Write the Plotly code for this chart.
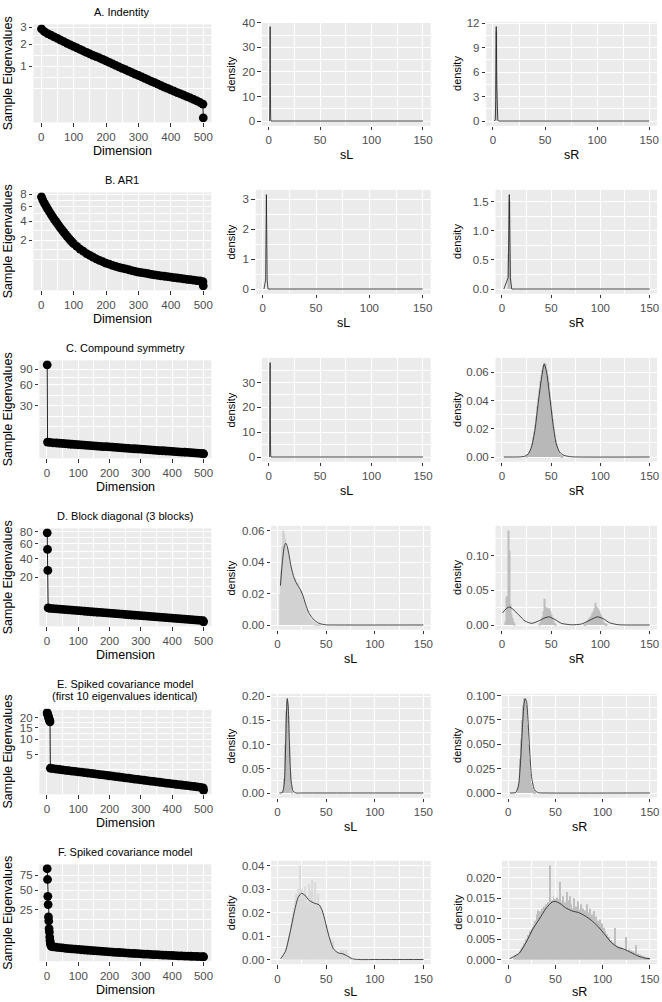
import math
import plotly.graph_objects as go

W, H = 662, 1002
FONT = "Liberation Sans, Arial, Helvetica, sans-serif"
TICKCOL = "#4D4D4D"

# ------------------------------------------------------------------
# Left column: sample eigenvalues
# ------------------------------------------------------------------
dims_A = [1] + list(range(10, 500, 10)) + [499, 500]
eig_A = [2.89, 2.71, 2.59, 2.50, 2.40, 2.31, 2.22, 2.13, 2.04, 1.96,
         1.88, 1.80, 1.73, 1.65, 1.58, 1.51, 1.45, 1.39, 1.33, 1.27,
         1.21, 1.15, 1.09, 1.03, 0.976, 0.922, 0.870, 0.821, 0.773, 0.726,
         0.681, 0.637, 0.594, 0.554, 0.514, 0.476, 0.440, 0.404, 0.371, 0.339,
         0.308, 0.281, 0.255, 0.230, 0.207, 0.185, 0.163, 0.143, 0.123, 0.102,
         0.084, 0.001]
yticks_A = [1, 2, 3]

dims_B = [1] + list(range(5, 100, 5)) + list(range(100, 500, 10)) + [499, 500]
eig_B = [7.56, 7.02, 6.50, 6.08, 5.66, 5.29, 4.93, 4.60, 4.28, 4.00,
         3.72, 3.46, 3.20, 2.98, 2.76, 2.56, 2.37, 2.19, 2.02, 1.87,
         1.73, 1.51, 1.32, 1.17, 1.02, 0.910, 0.810, 0.723, 0.648, 0.578,
         0.518, 0.469, 0.423, 0.384, 0.348, 0.320, 0.292, 0.265, 0.240, 0.217,
         0.196, 0.181, 0.168, 0.154, 0.141, 0.130, 0.119, 0.109, 0.100, 0.091,
         0.084, 0.076, 0.069, 0.062, 0.055, 0.049, 0.044, 0.039, 0.034, 0.029,
         0.022, 0.0005]
yticks_B = [2, 4, 6, 8]

dims_C = [1, 2] + list(range(10, 500, 10)) + [499, 500]
eig_C = [99.0, 2.31,
         2.17, 2.07, 2.00, 1.92, 1.85, 1.78, 1.70, 1.63, 1.57, 1.50,
         1.44, 1.38, 1.32, 1.26, 1.21, 1.16, 1.11, 1.06, 1.02, 0.968,
         0.920, 0.872, 0.824, 0.781, 0.738, 0.696, 0.657, 0.618, 0.581, 0.545,
         0.510, 0.475, 0.443, 0.411, 0.381, 0.352, 0.323, 0.297, 0.271, 0.246,
         0.225, 0.204, 0.184, 0.166, 0.148, 0.130, 0.114, 0.098, 0.082,
         0.067, 0.055]
yticks_C = [30, 60, 90]

dims_D = [1, 2, 3, 4] + list(range(10, 500, 10)) + [499, 500]
eig_D = [78.0, 52.0, 26.6, 2.24,
         2.13, 2.04, 1.97, 1.90, 1.83, 1.76, 1.69, 1.62, 1.56, 1.50,
         1.44, 1.38, 1.32, 1.26, 1.21, 1.16, 1.11, 1.06, 1.01, 0.962,
         0.915, 0.868, 0.822, 0.778, 0.735, 0.694, 0.654, 0.615, 0.578, 0.542,
         0.507, 0.473, 0.440, 0.409, 0.379, 0.350, 0.322, 0.295, 0.270, 0.246,
         0.224, 0.203, 0.183, 0.164, 0.146, 0.129, 0.113, 0.097, 0.082,
         0.060, 0.020]
yticks_D = [20, 40, 60, 80]

dims_E = list(range(1, 12)) + list(range(20, 500, 10)) + [499, 500]
eig_E = [22.8, 22.2, 21.6, 21.0, 20.4, 19.9, 19.3, 18.8, 18.3, 17.8, 2.00,
         1.93, 1.86, 1.79, 1.72, 1.66, 1.60, 1.54, 1.49, 1.44,
         1.38, 1.33, 1.27, 1.22, 1.17, 1.12, 1.07, 1.02, 0.97, 0.92,
         0.875, 0.83, 0.785, 0.74, 0.70, 0.66, 0.62, 0.58, 0.545, 0.51,
         0.475, 0.44, 0.41, 0.38, 0.35, 0.322, 0.295, 0.27, 0.245, 0.222,
         0.20, 0.18, 0.162, 0.145, 0.128, 0.112, 0.097, 0.083, 0.068,
         0.05, 0.006]
yticks_E = [5, 10, 15, 20]

dims_F = list(range(1, 16)) + list(range(20, 500, 10)) + [499, 500]
eig_F = [87.0, 67.0, 41.0, 30.6, 17.8, 14.4, 8.9, 6.9, 4.4, 3.0, 2.2, 1.75, 1.45, 1.3, 1.2,
         1.12, 1.03, 0.95, 0.88, 0.82, 0.76, 0.70, 0.655, 0.61,
         0.565, 0.525, 0.485, 0.45, 0.415, 0.385, 0.355, 0.325, 0.30, 0.275,
         0.25, 0.23, 0.21, 0.19, 0.17, 0.155, 0.14, 0.125, 0.11, 0.10,
         0.088, 0.077, 0.067, 0.058, 0.05, 0.043, 0.036, 0.03, 0.025, 0.02,
         0.016, 0.012, 0.009, 0.007, 0.005, 0.0035, 0.0022, 0.0012, 0.0005,
         0.0002, 0.0]
yticks_F = [25, 50, 75]

titles = ["A. Indentity", "B. AR1", "C. Compound symmetry",
          "D. Block diagonal (3 blocks)",
          "E. Spiked covariance model", "F. Spiked covariance model"]
title_E2 = "(first 10 eigenvalues identical)"

# ------------------------------------------------------------------
# Middle / right columns: densities of sL and sR
# ------------------------------------------------------------------
dA_L_x = [1.0, 1.25, 1.5, 1.75, 2.0, 2.4, 150]
dA_L_y = [0.0, 14.0, 38.5, 14.0, 1.0, 0.0, 0.0]
hA_L_x, hA_L_y = [], []
ytA_L = [0, 10, 20, 30, 40]

dA_R_x = [1.3, 2.2, 2.6, 2.9, 3.1, 3.3, 3.6, 4.0, 4.6, 5.5, 150]
dA_R_y = [0.0, 0.2, 2.5, 8.5, 11.6, 9.5, 4.5, 1.2, 0.15, 0.0, 0.0]
hA_R_x = [2.6, 2.9, 3.2, 3.5, 3.8]
hA_R_y = [2.0, 9.0, 11.0, 6.0, 1.5]
ytA_R = [0, 3, 6, 9, 12]

dB_L_x = [1.2, 2.8, 3.2, 3.5, 3.8, 4.2, 5.0, 150]
dB_L_y = [0.0, 0.3, 2.0, 3.15, 2.0, 0.3, 0.0, 0.0]
hB_L_x, hB_L_y = [], []
ytB_L = [0, 1, 2, 3]

dB_R_x = [2.0, 6.4, 7.0, 7.5, 8.0, 8.6, 10.0, 150]
dB_R_y = [0.0, 0.2, 1.0, 1.62, 1.0, 0.2, 0.0, 0.0]
hB_R_x = [6.75, 7.25, 7.75, 8.25]
hB_R_y = [0.6, 1.5, 1.5, 0.6]
ytB_R = [0.0, 0.5, 1.0, 1.5]

dC_L_x = [1.0, 1.2, 1.45, 1.7, 2.0, 2.4, 150]
dC_L_y = [0.0, 12.0, 38.0, 12.0, 0.8, 0.0, 0.0]
hC_L_x, hC_L_y = [], []
ytC_L = [0, 10, 20, 30]

dC_R_x = [2, 15, 20, 23, 27, 30, 33.5, 36.8, 40.2, 42.9, 45.2, 48.5, 51.9, 55.2, 58.6, 62.9, 70, 80, 150]
dC_R_y = [0, 0, 0.0002, 0.0005, 0.0024, 0.007, 0.019, 0.038, 0.056, 0.066, 0.061, 0.0435,
          0.0235, 0.0094, 0.0035, 0.0012, 0.0002, 0, 0]
hC_R_x = list(range(25, 63))
hC_R_y = [0.001, 0.002, 0.002, 0.004, 0.005, 0.007, 0.010, 0.014, 0.018, 0.023,
          0.029, 0.036, 0.042, 0.048, 0.054, 0.058, 0.062, 0.065, 0.067, 0.066,
          0.062, 0.058, 0.053, 0.046, 0.040, 0.033, 0.027, 0.021, 0.016, 0.012,
          0.009, 0.006, 0.004, 0.003, 0.002, 0.0015, 0.001, 0.0005]
ytC_R = [0.00, 0.02, 0.04, 0.06]

dD_L_x = [3, 5, 7, 8.5, 10, 12, 14, 17, 20, 23, 26, 29, 32, 35, 38, 42, 46, 50, 60, 150]
dD_L_y = [0.025, 0.04, 0.05, 0.052, 0.05, 0.044, 0.037, 0.03, 0.026, 0.023, 0.019, 0.013,
          0.008, 0.005, 0.003, 0.0013, 0.0005, 0.0001, 0, 0]
hD_L_x = list(range(3, 45))
hD_L_y = [0.02, 0.035, 0.05, 0.06, 0.058, 0.055, 0.05, 0.048, 0.045, 0.04,
          0.038, 0.035, 0.033, 0.03, 0.028, 0.03, 0.026, 0.025, 0.027, 0.022,
          0.02, 0.022, 0.018, 0.016, 0.015, 0.012, 0.01, 0.008, 0.009, 0.006,
          0.005, 0.004, 0.003, 0.003, 0.002, 0.002, 0.001, 0.001, 0.0005, 0.0005,
          0.0003, 0.0002]
ytD_L = [0.00, 0.02, 0.04, 0.06]

dD_R_x = [0.7, 4, 7.4, 11, 16.8, 23.5, 30.3, 37, 43.7, 47.8, 53.8, 60.5, 70.6, 80.7, 87.5,
          94.2, 96.9, 102.6, 109.3, 117.7, 127.8, 150]
dD_R_y = [0.0175, 0.023, 0.026, 0.023, 0.015, 0.0057, 0.0024, 0.0057, 0.0104, 0.0118, 0.008,
          0.0024, 0.0003, 0.0014, 0.0057, 0.0104, 0.0118, 0.0094, 0.0033, 0.0005, 0, 0]
hD_R_x = (list(range(4, 14)) + list(range(38, 55)) + list(range(84, 107)))
hD_R_y = ([0.005, 0.04, 0.042, 0.136, 0.107, 0.03, 0.015, 0.01, 0.005, 0.002]
          + [0.002, 0.004, 0.008, 0.012, 0.02, 0.038, 0.026, 0.024, 0.025, 0.023,
             0.024, 0.02, 0.015, 0.01, 0.006, 0.003, 0.001]
          + [0.001, 0.002, 0.004, 0.006, 0.008, 0.01, 0.012, 0.014, 0.018, 0.02,
             0.024, 0.032, 0.026, 0.025, 0.022, 0.02, 0.016, 0.012, 0.008, 0.005,
             0.003, 0.002, 0.001])
ytD_R = [0.00, 0.05, 0.10]

dE_L_x = [2, 5, 7, 8, 9, 10, 11, 12, 13, 14, 16, 19, 25, 150]
dE_L_y = [0, 0.001, 0.02, 0.07, 0.15, 0.195, 0.18, 0.12, 0.06, 0.025, 0.004, 0, 0, 0]
hE_L_x = list(range(6, 16))
hE_L_y = [0.005, 0.03, 0.1, 0.17, 0.19, 0.16, 0.1, 0.045, 0.015, 0.004]
ytE_L = [0.00, 0.05, 0.10, 0.15, 0.20]

dE_R_x = [2, 8, 11, 13, 15, 16.5, 18, 19.5, 21, 23, 25, 28, 32, 40, 150]
dE_R_y = [0, 0.0005, 0.008, 0.03, 0.065, 0.088, 0.097, 0.094, 0.075, 0.04, 0.015, 0.003,
          0.0003, 0, 0]
hE_R_x = list(range(10, 29))
hE_R_y = [0.004, 0.01, 0.02, 0.035, 0.055, 0.075, 0.09, 0.097, 0.096, 0.09,
          0.07, 0.05, 0.035, 0.02, 0.01, 0.006, 0.003, 0.002, 0.001]
ytE_R = [0.000, 0.025, 0.050, 0.075, 0.100]

dF_L_x = [3.3, 8.2, 13.1, 18, 21.3, 24.6, 27.9, 32.8, 37.7, 42.7, 45.9, 49.2, 52.5, 57.4,
          62.4, 67.3, 72.2, 77.1, 83.7, 100, 150]
dF_L_y = [0.0003, 0.0035, 0.0118, 0.0216, 0.0265, 0.0282, 0.0275, 0.0251, 0.024, 0.0233,
          0.0209, 0.016, 0.0105, 0.0046, 0.0028, 0.0024, 0.0014, 0.0003, 0, 0, 0]
hF_L_x = list(range(5, 77))
hF_L_y = [0.0, 0.001, 0.002, 0.003, 0.005, 0.006, 0.008, 0.01, 0.012, 0.015,
          0.018, 0.02, 0.022, 0.025, 0.028, 0.024, 0.03, 0.027, 0.04, 0.026,
          0.03, 0.028, 0.022, 0.031, 0.025, 0.027, 0.02, 0.024, 0.032, 0.022,
          0.029, 0.034, 0.021, 0.025, 0.033, 0.02, 0.024, 0.028, 0.02, 0.023,
          0.019, 0.021, 0.016, 0.018, 0.013, 0.015, 0.01, 0.012, 0.007, 0.009,
          0.005, 0.006, 0.008, 0.003, 0.004, 0.002, 0.003, 0.002, 0.003, 0.002,
          0.004, 0.002, 0.003, 0.004, 0.002, 0.003, 0.004, 0.001, 0.002, 0.001,
          0.001, 0.0005]
ytF_L = [0.00, 0.01, 0.02, 0.03, 0.04]

dF_R_x = [1.7, 12, 19, 26, 33, 40, 46.7, 50, 55, 60.5, 67.5, 74.4, 81.3, 88, 95, 102, 109,
          116, 123, 130, 137, 143.6, 150]
dF_R_y = [0.0002, 0.0016, 0.0042, 0.0074, 0.0099, 0.0125, 0.0141, 0.0142, 0.0137, 0.0127,
          0.0119, 0.0115, 0.0107, 0.0096, 0.0081, 0.0062, 0.0042, 0.003, 0.0025, 0.0017,
          0.0009, 0.0004, 0.0002]
hF_R_x = list(range(6, 150))
hF_R_y = [0.0005, 0.001, 0.0008, 0.0012, 0.001,
          0.0015, 0.002, 0.0018, 0.0025, 0.003,
          0.0032, 0.004, 0.0035, 0.005, 0.0045,
          0.006, 0.0055, 0.007, 0.0065, 0.0075,
          0.008, 0.0085, 0.0095, 0.0088, 0.011,
          0.0105, 0.012, 0.0098, 0.0118, 0.011,
          0.0125, 0.0115, 0.013, 0.012, 0.0135,
          0.0128, 0.014, 0.0125, 0.023, 0.0135,
          0.0145, 0.0138, 0.0155, 0.013, 0.0148,
          0.014, 0.0152, 0.0135, 0.0148, 0.019,
          0.0142, 0.013, 0.0155, 0.012, 0.014,
          0.0132, 0.0165, 0.0125, 0.0145, 0.0155,
          0.0118, 0.0135, 0.0125, 0.012, 0.015,
          0.0115, 0.013, 0.0108, 0.0142, 0.0122,
          0.011, 0.0135, 0.0112, 0.0125, 0.0105,
          0.012, 0.0108, 0.0135, 0.0098, 0.0115,
          0.0102, 0.0125, 0.009, 0.011, 0.0095,
          0.0118, 0.0085, 0.0105, 0.0078, 0.0095,
          0.0082, 0.0098, 0.007, 0.0088, 0.0065,
          0.0078, 0.0058, 0.007, 0.0052, 0.0062,
          0.0045, 0.0055, 0.004, 0.0048, 0.0035,
          0.0042, 0.0032, 0.0077, 0.003, 0.0035,
          0.0028, 0.0032, 0.0025, 0.003, 0.0022,
          0.0028, 0.002, 0.0025, 0.0018, 0.0055,
          0.002, 0.0018, 0.0025, 0.0015, 0.0022,
          0.0014, 0.002, 0.0012, 0.0018, 0.0035,
          0.001, 0.0015, 0.0008, 0.0012, 0.0008,
          0.0007, 0.001, 0.0005, 0.0008, 0.0004,
          0.0005, 0.0003, 0.0004, 0.0002]
ytF_R = [0.000, 0.005, 0.010, 0.015, 0.020]

dens_xticks = [0, 50, 100, 150]
dim_xticks = [0, 100, 200, 300, 400, 500]

# ------------------------------------------------------------------
# Layout geometry (pixels)
# ------------------------------------------------------------------
left_boxes = [(33.5, 212, 19.5, 118), (33.5, 212, 188.5, 287), (39.5, 212, 357.5, 456),
              (39.5, 212, 526.5, 625), (39.5, 212, 708, 794), (39.5, 212, 864.5, 962)]
mid_boxes = [(262.7, 432, 17, 121.5), (256.5, 432, 186, 290.5), (262.7, 432, 355, 459.5),
             (272, 432, 524, 628.5), (272, 432, 693, 797.5), (272, 432, 861, 965)]
right_boxes = [(487.7, 659, 17, 121.5), (497, 659, 186, 290.5), (497, 659, 355, 459.5),
               (497, 659, 524, 628.5), (503.5, 659, 693, 797.5), (503.5, 659, 861, 965)]

fig = go.Figure()
layout = dict(width=W, height=H, margin=dict(l=0, r=0, t=0, b=0),
              paper_bgcolor="white", plot_bgcolor="#EBEBEB", showlegend=False,
              barmode="overlay", font=dict(family=FONT, color="black"))
annotations = []


def names(k):
    s = "" if k == 1 else str(k)
    return "xaxis" + s, "yaxis" + s, "x" + s, "y" + s


def minor_from(majors, lo, hi):
    b = list(majors)
    bd = b[1] - b[0]
    if lo < b[0]:
        b = [b[0] - bd] + b
    if hi > b[-1]:
        b = b + [b[-1] + bd]
    out = []
    for a, c in zip(b[:-1], b[1:]):
        out += [a, (a + c) / 2]
    out.append(b[-1])
    return [v for v in out if lo <= v <= hi and all(abs(v - m) > 1e-9 for m in majors)]


def fmt_labels(vals):
    dec = 0
    for v in vals:
        s = repr(float(v))
        if "." in s:
            d = len(s.split(".")[1].rstrip("0"))
            dec = max(dec, d)
    return [f"{v:.{dec}f}" for v in vals]


def axis(box, horiz, rng, tickvals, ticktext, minors, anchor):
    x0, x1, y0, y1 = box
    dom = [x0 / W, x1 / W] if horiz else [1 - y1 / H, 1 - y0 / H]
    return dict(domain=dom, range=rng, anchor=anchor, tickmode="array",
                tickvals=tickvals, ticktext=ticktext, ticks="outside", ticklen=3.5,
                tickwidth=1, tickcolor="#333333",
                tickfont=dict(family=FONT, size=11.5, color=TICKCOL),
                showgrid=True, gridcolor="white", gridwidth=1.1,
                minor=dict(tickmode="array", tickvals=minors, showgrid=True,
                           gridcolor="white", gridwidth=0.55, ticks=""),
                zeroline=False, showline=False, fixedrange=True)


def text(x, y, s, size, angle=0, color="black"):
    annotations.append(dict(x=x / W, y=1 - y / H, xref="paper", yref="paper", text=s,
                            showarrow=False, xanchor="center", yanchor="middle",
                            textangle=angle, font=dict(family=FONT, size=size, color=color)))


def eig_panel(k, box, dims, vals, yt):
    xa, ya, xr, yr = names(k)
    sy = [math.sqrt(v) for v in vals]
    lo, hi = min(sy), max(sy)
    pad = 0.05 * (hi - lo)
    yrng = [lo - pad, hi + pad]
    dlo, dhi = min(dims), max(dims)
    dp = 0.05 * (dhi - dlo)
    xrng = [dlo - dp, dhi + dp]
    fig.add_trace(go.Scatter(x=dims, y=sy, mode="lines+markers",
                             line=dict(color="black", width=0.9),
                             marker=dict(color="black", size=8.8, line=dict(width=0)),
                             xaxis=xr, yaxis=yr, hoverinfo="skip"))
    ytv = [math.sqrt(t) for t in yt]
    layout[xa] = axis(box, True, xrng, dim_xticks, [str(t) for t in dim_xticks],
                      minor_from(dim_xticks, *xrng), yr)
    layout[ya] = axis(box, False, yrng, ytv, [str(t) for t in yt],
                      minor_from(ytv, *yrng), xr)


def dens_panel(k, box, dx, dy, hx, hy, hw, hcol, yt, smooth=True):
    xa, ya, xr, yr = names(k)
    if hx:
        fig.add_trace(go.Bar(x=hx, y=hy, width=hw, marker=dict(color=hcol, line=dict(width=0)),
                             xaxis=xr, yaxis=yr, hoverinfo="skip"))
    fig.add_trace(go.Scatter(x=dx, y=dy, mode="lines",
                             line=dict(color="#1A1A1A", width=0.8,
                                       shape="spline" if smooth else "linear",
                                       smoothing=0.6),
                             xaxis=xr, yaxis=yr, hoverinfo="skip"))
    ymax = max(dy + (hy if hy else [0]))
    yrng = [-0.05 * ymax, 1.05 * ymax]
    xrng = [-6.5, 157.5]
    layout[xa] = axis(box, True, xrng, dens_xticks, [str(t) for t in dens_xticks],
                      minor_from(dens_xticks, *xrng), yr)
    yt_in = [t for t in yt if yrng[0] <= t <= yrng[1]]
    layout[ya] = axis(box, False, yrng, yt_in, fmt_labels(yt_in),
                      minor_from(yt_in, *yrng), xr)


eig_sets = [(dims_A, eig_A, yticks_A), (dims_B, eig_B, yticks_B), (dims_C, eig_C, yticks_C),
            (dims_D, eig_D, yticks_D), (dims_E, eig_E, yticks_E), (dims_F, eig_F, yticks_F)]

left_sets = [(dA_L_x, dA_L_y, hA_L_x, hA_L_y, 0.3, "#BDBDBD", ytA_L, False),
             (dB_L_x, dB_L_y, hB_L_x, hB_L_y, 0.3, "#BDBDBD", ytB_L, False),
             (dC_L_x, dC_L_y, hC_L_x, hC_L_y, 0.3, "#BDBDBD", ytC_L, False),
             (dD_L_x, dD_L_y, hD_L_x, hD_L_y, 1.0, "#D3D3D3", ytD_L, True),
             (dE_L_x, dE_L_y, hE_L_x, hE_L_y, 1.0, "#BDBDBD", ytE_L, True),
             (dF_L_x, dF_L_y, hF_L_x, hF_L_y, 1.0, "#D9D9D9", ytF_L, True)]
right_sets = [(dA_R_x, dA_R_y, hA_R_x, hA_R_y, 0.3, "#BDBDBD", ytA_R, False),
              (dB_R_x, dB_R_y, hB_R_x, hB_R_y, 0.5, "#BDBDBD", ytB_R, False),
              (dC_R_x, dC_R_y, hC_R_x, hC_R_y, 1.0, "#B8B8B8", ytC_R, True),
              (dD_R_x, dD_R_y, hD_R_x, hD_R_y, 1.0, "#BDBDBD", ytD_R, True),
              (dE_R_x, dE_R_y, hE_R_x, hE_R_y, 1.0, "#BDBDBD", ytE_R, True),
              (dF_R_x, dF_R_y, hF_R_x, hF_R_y, 1.0, "#BEBEBE", ytF_R, True)]

title_y = [6.7, 175.7, 344.7, 513.7, 683.3, 851.7]
k = 1
for r in range(6):
    lb, mb, rb = left_boxes[r], mid_boxes[r], right_boxes[r]
    dims, vals, yt = eig_sets[r]
    eig_panel(k, lb, dims, vals, yt)
    k += 1
    dx, dy, hx, hy, hw, hc, yt2, sm = left_sets[r]
    dens_panel(k, mb, dx, dy, hx, hy, hw, hc, yt2, sm)
    k += 1
    dx, dy, hx, hy, hw, hc, yt3, sm = right_sets[r]
    dens_panel(k, rb, dx, dy, hx, hy, hw, hc, yt3, sm)
    k += 1

    cx = (lb[0] + lb[1]) / 2
    text(cx, title_y[r], titles[r], 11)
    if r == 4:
        text(cx, 695.0, title_E2, 11)
    text(cx, lb[3] + 28.5, "Dimension", 12.5)
    text(8, (lb[2] + lb[3]) / 2, "Sample Eigenvalues", 12.5, angle=-90)
    lab_y = min(mb[3] + 29.5, 993.0)
    text((mb[0] + mb[1]) / 2, lab_y, "sL", 12.5)
    text(231.5, (mb[2] + mb[3]) / 2, "density", 11, angle=-90)
    text((rb[0] + rb[1]) / 2, lab_y, "sR", 12.5)
    text(458.5, (rb[2] + rb[3]) / 2, "density", 11, angle=-90)

layout["annotations"] = annotations
fig.update_layout(**layout)
fig.write_html("out.html")
